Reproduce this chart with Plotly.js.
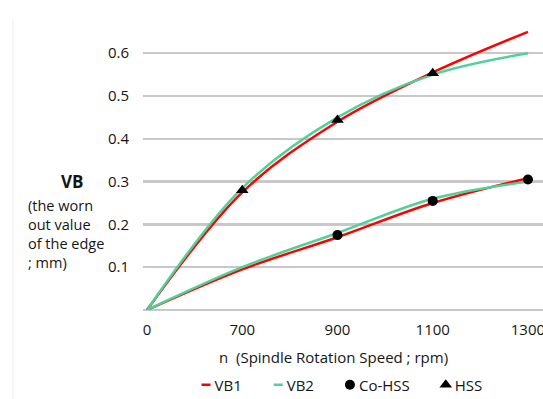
<!DOCTYPE html>
<html>
<head>
<meta charset="utf-8">
<script src="https://cdn.plot.ly/plotly-3.0.1.min.js"></script>
<style>html,body{margin:0;padding:0;background:#fff;}#chart{width:543px;height:399px;}</style>
</head>
<body>
<div id="chart"></div>
<script>
// Data
const speedLabels = ["0", "700", "900", "1100", "1300"];
const pos = [0, 1, 2, 3, 4];
const vb1HSS = [0, 0.275, 0.44, 0.555, 0.65];
const vb2HSS = [0, 0.285, 0.45, 0.55, 0.60];
const vb1Co = [0, 0.095, 0.17, 0.25, 0.308];
const vb2Co = [0, 0.10, 0.18, 0.26, 0.30];
const coHSSPos = [2, 3, 4];
const coHSSVal = [0.175, 0.255, 0.305];
const hssPos = [1, 2, 3];
const hssVal = [0.28, 0.444, 0.553];

const RED = "#ff0000", GREEN = "#4fd19b";
const FONT = "'Open Sans', 'Noto Sans', sans-serif";
const TXT = "#151515";

const traces = [
  {x: pos, y: vb1HSS, mode: "lines", line: {color: RED, width: 2.5, shape: "spline"}, name: "VB1", legendgroup: "vb1"},
  {x: pos, y: vb2HSS, mode: "lines", line: {color: GREEN, width: 2.5, shape: "spline"}, name: "VB2", legendgroup: "vb2"},
  {x: pos, y: vb1Co, mode: "lines", line: {color: RED, width: 2.5, shape: "spline"}, name: "VB1", legendgroup: "vb1", showlegend: false},
  {x: pos, y: vb2Co, mode: "lines", line: {color: GREEN, width: 2.5, shape: "spline"}, name: "VB2", legendgroup: "vb2", showlegend: false},
  {x: coHSSPos, y: coHSSVal, mode: "markers", marker: {symbol: "circle", size: 10, color: "#000"}, name: "Co-HSS"},
  {x: hssPos, y: hssVal, mode: "markers", marker: {symbol: "triangle-up", size: 11, color: "#000"}, name: "HSS"}
];

const layout = {
  width: 543, height: 399,
  margin: {l: 143, r: 0, t: 19, b: 89},
  paper_bgcolor: "#fff", plot_bgcolor: "#fff",
  font: {family: FONT, size: 15, color: TXT},
  showlegend: true,
  legend: {orientation: "h", x: 0.47, xanchor: "center", yref: "container", y: 0.035, yanchor: "middle",
           font: {family: FONT, size: 15, color: TXT}, itemwidth: 30, tracegroupgap: 0},
  xaxis: {range: [-0.042, 4.158], tickmode: "array", tickvals: pos, ticktext: speedLabels,
          showgrid: false, zeroline: false, showline: false, ticks: "", ticklabelstandoff: 9,
          ticklabeloverflow: "allow", automargin: false, fixedrange: true},
  yaxis: {range: [0, 0.68], tickvals: [0.1, 0.2, 0.3, 0.4, 0.5, 0.6], ticktext: ["0.1","0.2","0.3","0.4","0.5","0.6"],
          showgrid: true, gridcolor: "#c8c8c8", gridwidth: 2.5,
          zeroline: true, zerolinecolor: "#c8c8c8", zerolinewidth: 2.5,
          showline: false, ticks: "", ticklabelstandoff: 13, automargin: false, fixedrange: true},
  annotations: [
    {xref: "paper", yref: "paper", x: -0.1775, y: 0.443, xanchor: "center", yanchor: "middle",
     text: "<b>VB</b>", showarrow: false, font: {family: FONT, size: 17, color: TXT}},
    {xref: "paper", yref: "paper", x: -0.293, y: 0.4, xanchor: "left", yanchor: "top", align: "left",
     text: "(the worn<br>out value<br>of the edge<br>; mm)", showarrow: false, font: {family: FONT, size: 14.5, color: TXT}},
    {xref: "paper", yref: "paper", x: 0.475, y: -0.1615, xanchor: "center", yanchor: "middle",
     text: "n  (Spindle Rotation Speed ; rpm)", showarrow: false, font: {family: FONT, size: 15, color: TXT}}
  ],
  shapes: [
    {type: "line", xref: "paper", yref: "paper", x0: -0.325, x1: -0.325, y0: 1.0, y1: -0.31,
     line: {color: "#ececec", width: 1}}
  ]
};

Plotly.newPlot("chart", traces, layout, {displayModeBar: false, staticPlot: true}).then(function () {
  document.querySelectorAll("#chart .legend .legendlines path").forEach(function (p) {
    p.setAttribute("d", "M27,0h9");
  });
  document.querySelectorAll("#chart .legend .legendpoints path").forEach(function (p) {
    p.setAttribute("transform", "translate(31,0)");
  });
});
</script>
</body>
</html>
